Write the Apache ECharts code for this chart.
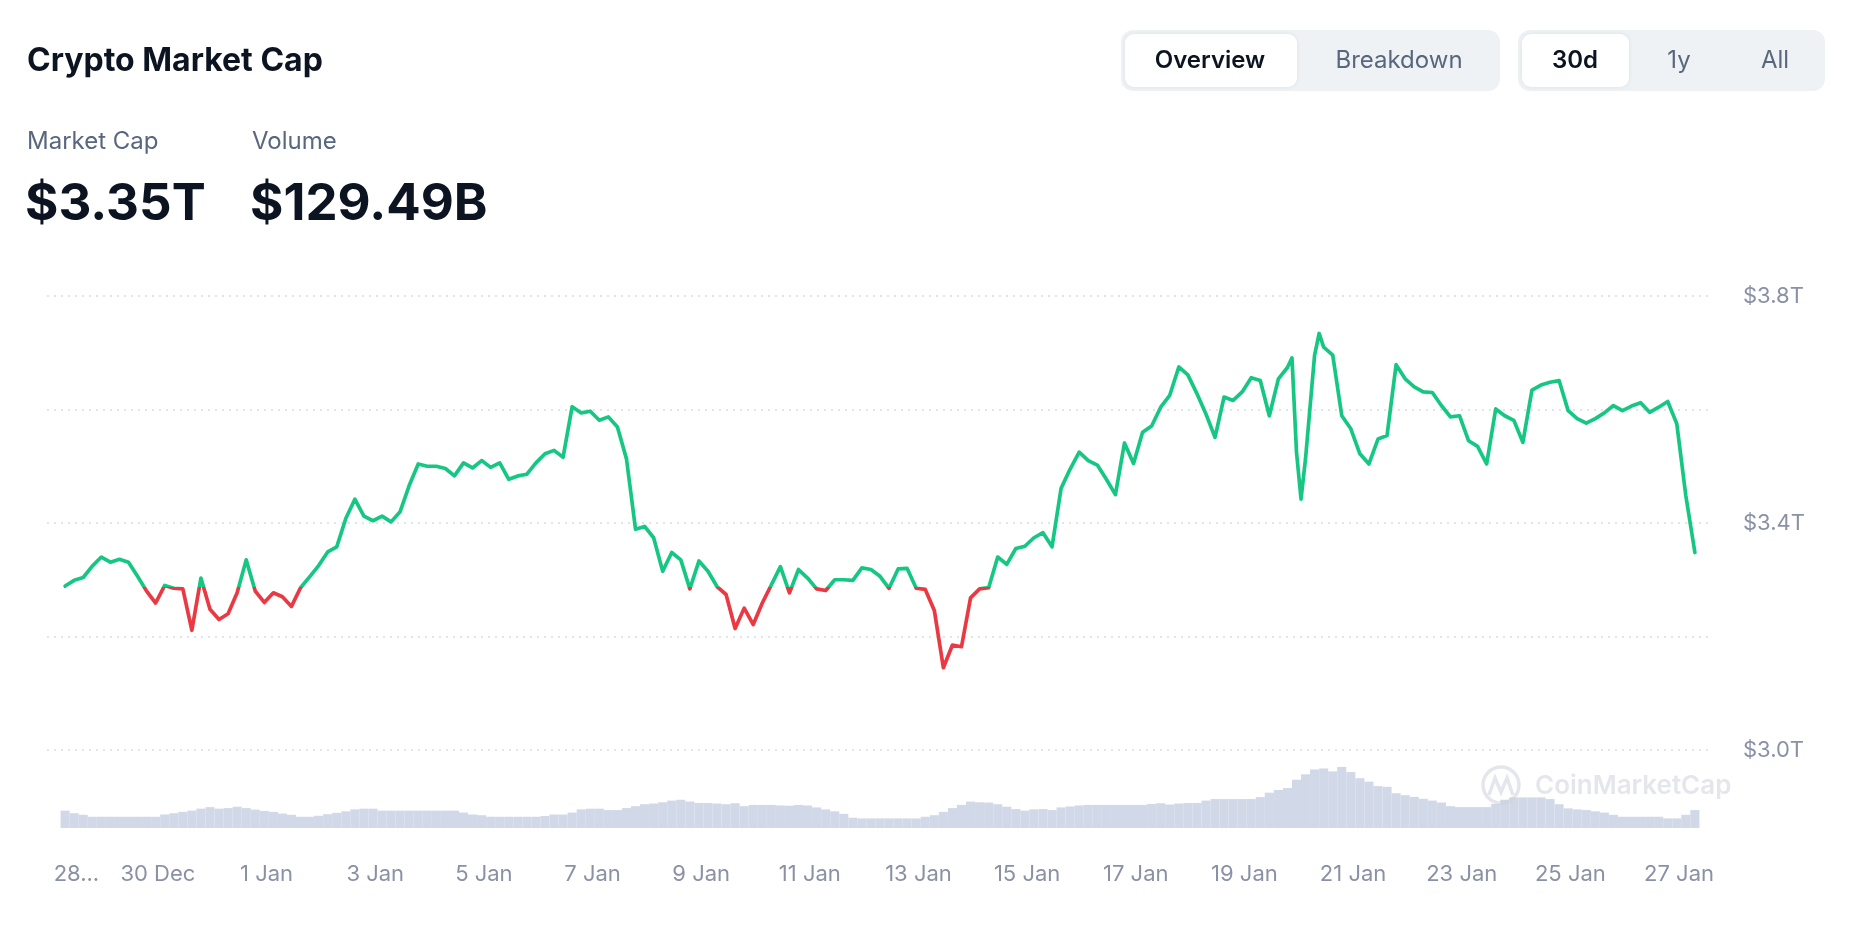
<!DOCTYPE html>
<html>
<head>
<meta charset="utf-8">
<title>Crypto Market Cap</title>
<script src="https://cdn.jsdelivr.net/npm/echarts@6/dist/echarts.min.js"></script>
<style>
  html, body { margin: 0; padding: 0; background: #fff; }
  #chart { width: 1862px; height: 948px; }
</style>
</head>
<body>
<div id="chart"></div>
<script>
// market cap in $T, one sample every 4 hours starting 28 Dec 07:00 (hour 7)
const firstHour = 7;
const stepHours = 4;
const capValues = [
  3.289, 3.299, 3.304, 3.324, 3.340, 3.331, 3.336, 3.331, 3.306, 3.280,
  3.259, 3.290, 3.285, 3.284, 3.211, 3.303, 3.248, 3.230, 3.240, 3.277,
  3.335, 3.280, 3.260, 3.277, 3.270, 3.253, 3.286, 3.305, 3.325, 3.349,
  3.358, 3.408, 3.442, 3.412, 3.404, 3.412, 3.402, 3.420, 3.466, 3.504,
  3.500, 3.500, 3.496, 3.483, 3.506, 3.497, 3.510, 3.498, 3.506, 3.477,
  3.483, 3.486, 3.506, 3.522, 3.528, 3.516, 3.605, 3.594, 3.597, 3.581,
  3.587, 3.569, 3.513, 3.389, 3.394, 3.374, 3.315, 3.348, 3.335, 3.284,
  3.333, 3.315, 3.288, 3.274, 3.214, 3.250, 3.221, 3.259, 3.291, 3.323,
  3.277, 3.318, 3.303, 3.284, 3.281, 3.300, 3.300, 3.299, 3.321, 3.318,
  3.306, 3.285, 3.319, 3.320, 3.285, 3.283, 3.246, 3.145, 3.185, 3.182,
  3.268, 3.284, 3.286, 3.340, 3.327, 3.355, 3.359, 3.374, 3.383, 3.358,
  3.461, 3.495, 3.525, 3.510, 3.502, 3.477, 3.450, 3.541, 3.505, 3.560,
  3.571, 3.604, 3.625, 3.675, 3.661, 3.628, 3.592, 3.551, 3.622, 3.616,
  3.631, 3.656, 3.651, 3.589, 3.654, 3.674, 3.525, 3.514, 3.696, 3.710,
  3.696, 3.589, 3.566, 3.522, 3.504, 3.548, 3.554, 3.679, 3.654, 3.640,
  3.631, 3.630, 3.607, 3.587, 3.589, 3.545, 3.535, 3.504, 3.601, 3.589,
  3.581, 3.542, 3.634, 3.643, 3.648, 3.651, 3.598, 3.584, 3.576, 3.584,
  3.594, 3.607, 3.598, 3.606, 3.612, 3.595, 3.604, 3.614, 3.575, 3.448,
  3.348
];
// sharp spikes between the regular samples: [hour, $T]
const capSpikes = [[549, 3.691], [553, 3.442], [561, 3.734]];
// the line turns red below the opening value
const openValue = 3.2875;

// 24h volume in $B, same 4-hour samples
const volValues = [
  125, 106, 95, 81, 81, 81, 81, 81, 81, 81,
  81, 97, 106, 116, 125, 139, 150, 139, 143, 153,
  143, 132, 123, 116, 104, 95, 81, 81, 88, 99,
  109, 120, 134, 139, 139, 125, 125, 125, 125, 125,
  125, 125, 125, 125, 111, 97, 92, 81, 81, 81,
  81, 81, 81, 86, 97, 97, 111, 134, 139, 139,
  129, 129, 143, 157, 171, 176, 185, 197, 203, 190,
  180, 180, 176, 171, 178, 157, 166, 166, 166, 162,
  160, 166, 162, 148, 134, 120, 102, 74, 69, 69,
  69, 69, 69, 69, 69, 81, 92, 116, 143, 166,
  190, 185, 183, 171, 153, 136, 125, 134, 136, 129,
  148, 155, 162, 166, 166, 166, 166, 166, 166, 166,
  173, 178, 169, 176, 180, 180, 197, 208, 208, 208,
  208, 208, 222, 254, 273, 287, 347, 386, 421, 428,
  407, 439, 402, 358, 333, 301, 296, 250, 236, 224,
  210, 197, 183, 157, 150, 150, 150, 150, 173, 203,
  220, 220, 220, 220, 208, 171, 141, 134, 129, 120,
  111, 95, 81, 81, 81, 81, 81, 69, 69, 95,
  129
];

// date ticks: hours since 28 Dec 00:00
const tickHours = [12, 48, 96, 144, 192, 240, 288, 336, 384, 432, 480, 528, 576, 624, 672, 720];
const tickLabels = ['28...', '30 Dec', '1 Jan', '3 Jan', '5 Jan', '7 Jan', '9 Jan', '11 Jan',
  '13 Jan', '15 Jan', '17 Jan', '19 Jan', '21 Jan', '23 Jan', '25 Jan', '27 Jan'];
const capTicks = [3.0, 3.4, 3.8];

const capData = capValues.map((v, i) => [firstHour + i * stepHours, v])
  .concat(capSpikes)
  .sort((a, b) => a[0] - b[0]);
const volData = volValues.map((v, i) => [firstHour + i * stepHours, v]);

const font = 'Inter';
const dark = '#0d1421';
const gray = '#58667e';
const axisGray = '#8a91a5';

const chart = echarts.init(document.getElementById('chart'));

const txt = (x, y, text, size, weight, color, align) => ({
  type: 'text', x: x, y: y, silent: true,
  style: {
    text: text, fill: color, align: align || 'left', verticalAlign: 'middle',
    font: weight + ' ' + size + 'px ' + font
  }
});

const option = {
  animation: false,
  backgroundColor: '#fff',
  textStyle: { fontFamily: font },
  grid: [
    { left: 47, width: 1666, top: 296, height: 454 },
    { left: 47, width: 1666, top: 748, height: 80 }
  ],
  xAxis: [
    {
      type: 'value', gridIndex: 0, min: -1, max: 735,
      show: false
    },
    {
      type: 'value', gridIndex: 1, min: -1, max: 735,
      axisLine: { show: false },
      axisTick: { show: false },
      splitLine: { show: false },
      axisLabel: {
        customValues: tickHours,
        formatter: (v) => tickLabels[tickHours.indexOf(v)] || '',
        color: axisGray, fontSize: 22, margin: 35, fontFamily: font
      }
    }
  ],
  yAxis: [
    {
      type: 'value', gridIndex: 0, position: 'right',
      min: 3.0, max: 3.8, interval: 0.2,
      axisLine: { show: false },
      axisTick: { show: false },
      axisLabel: {
        customValues: capTicks,
        formatter: (v) => '$' + v.toFixed(1) + 'T',
        color: axisGray, fontSize: 22, margin: 30, fontFamily: font
      },
      splitLine: { lineStyle: { color: '#d7dbe3', width: 1.5, type: [2, 5] } }
    },
    {
      type: 'value', gridIndex: 1, min: 0, max: 575,
      show: false
    }
  ],
  visualMap: {
    type: 'piecewise', show: false, seriesIndex: 0, dimension: 1,
    pieces: [
      { gte: 2.5, lt: openValue, color: '#ea3943' },
      { gte: openValue, lte: 4.5, color: '#16c784' }
    ]
  },
  series: [
    {
      name: 'Market Cap', type: 'line', xAxisIndex: 0, yAxisIndex: 0,
      data: capData, showSymbol: false, smooth: false,
      lineStyle: { width: 3.7, join: 'round', cap: 'round' },
      z: 3
    },
    {
      name: 'Volume', type: 'bar', xAxisIndex: 1, yAxisIndex: 1,
      data: volData, barWidth: 9.1, silent: true,
      itemStyle: { color: '#d1d8e7' },
      z: 2
    }
  ],
  graphic: [
    txt(27, 61, 'Crypto Market Cap', 32, 700, dark),
    txt(27, 142, 'Market Cap', 24, 400, gray),
    txt(252, 142, 'Volume', 24, 400, gray),
    txt(25, 205, '$3.35T', 51, 700, dark),
    txt(250, 205, '$129.49B', 51, 700, dark),

    { type: 'rect', silent: true, shape: { x: 1121, y: 30, width: 379, height: 61, r: 12 },
      style: { fill: '#eff2f5' } },
    { type: 'rect', silent: true, shape: { x: 1125, y: 34, width: 172, height: 53, r: 9 },
      style: { fill: '#fff', shadowBlur: 4, shadowColor: 'rgba(13,20,33,0.08)' } },
    txt(1210, 61, 'Overview', 24, 600, dark, 'center'),
    txt(1399, 61, 'Breakdown', 24, 400, gray, 'center'),

    { type: 'rect', silent: true, shape: { x: 1518, y: 30, width: 307, height: 61, r: 12 },
      style: { fill: '#eff2f5' } },
    { type: 'rect', silent: true, shape: { x: 1522, y: 34, width: 107, height: 53, r: 9 },
      style: { fill: '#fff', shadowBlur: 4, shadowColor: 'rgba(13,20,33,0.08)' } },
    txt(1575, 61, '30d', 24, 600, dark, 'center'),
    txt(1679, 61, '1y', 24, 400, gray, 'center'),
    txt(1775, 61, 'All', 24, 400, gray, 'center'),

    // watermark
    { type: 'circle', silent: true, z: 10, shape: { cx: 1501, cy: 785, r: 18 },
      style: { fill: 'none', stroke: 'rgba(205,210,220,0.55)', lineWidth: 3.5 } },
    { type: 'polyline', silent: true, z: 10,
      shape: { points: [[1489, 795], [1495, 778], [1501, 792], [1507, 778], [1513, 795]] },
      style: { fill: 'none', stroke: 'rgba(205,210,220,0.55)', lineWidth: 3.5 } },
    { type: 'text', silent: true, z: 10, x: 1535, y: 786,
      style: { text: 'CoinMarketCap', fill: 'rgba(205,210,220,0.55)', align: 'left',
        verticalAlign: 'middle', font: '600 26px ' + font } }
  ]
};

chart.setOption(option);
</script>
</body>
</html>
